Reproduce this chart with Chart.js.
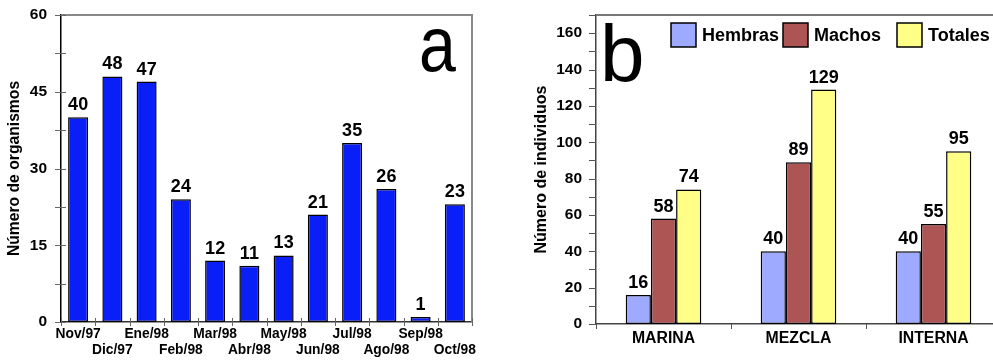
<!DOCTYPE html>
<html lang="es">
<head>
<meta charset="utf-8">
<title>Organismos por mes y por zona</title>
<script src="https://cdn.jsdelivr.net/npm/chart.js@4.4.1/dist/chart.umd.min.js"></script>
<style>
  html, body { margin: 0; padding: 0; background: #fff; overflow: hidden; }
  body { width: 993px; height: 360px; position: relative; }
  canvas { position: absolute; top: 0; }
  #graficoA { left: 0; }
  #graficoB { left: 490px; }
</style>
</head>
<body>
<canvas id="graficoA" width="490" height="360"></canvas>
<canvas id="graficoB" width="520" height="360"></canvas>
<script>
/* --- DATOS --- */

// panel a: organismos por mes (dos filas de etiquetas alternadas)
const meses = ['Nov/97', 'Dic/97', 'Ene/98', 'Feb/98', 'Mar/98', 'Abr/98',
               'May/98', 'Jun/98', 'Jul/98', 'Ago/98', 'Sep/98', 'Oct/98'];
const organismos = [40, 48, 47, 24, 12, 11, 13, 21, 35, 26, 1, 23];
const ticksA = [0, 15, 30, 45, 60];

// panel b: individuos por zona
const zonas = ['MARINA', 'MEZCLA', 'INTERNA'];
const hembras = [16, 40, 40];
const machos = [58, 89, 55];
const totales = [74, 129, 95];
const ticksB = [0, 20, 40, 60, 80, 100, 120, 140, 160];

const FUENTE = "'Liberation Sans', Arial, Helvetica, sans-serif";

/* --- PLUGINS --- */

// marcas de los ejes (mayores y menores), borde gris arriba/derecha
const marcasEje = {
  id: 'marcasEje',
  afterDraw(chart, args, o) {
    const { ctx, chartArea: a, scales: { x, y } } = chart;
    ctx.save();

    ctx.strokeStyle = o.gris;
    ctx.lineWidth = 2;
    ctx.beginPath();
    ctx.moveTo(a.left, a.top);
    ctx.lineTo(a.right, a.top);
    if (o.bordeDerecho) ctx.lineTo(a.right, a.bottom);
    ctx.stroke();

    ctx.strokeStyle = o.color;
    ctx.lineWidth = 1;
    ctx.beginPath();
    for (let v = y.min; v <= y.max + 1e-6; v += o.pasoMenor) {
      const py = Math.round(y.getPixelForValue(v)) + 0.5;
      ctx.moveTo(a.left - o.fueraY, py);
      ctx.lineTo(a.left + o.dentroY, py);
    }
    const n = chart.data.labels.length;
    const ancho = (x.getPixelForValue(n - 1) - x.getPixelForValue(0)) / (n - 1);
    for (let i = 0; i <= n; i++) {
      const px = Math.round(x.getPixelForValue(0) - ancho / 2 + i * ancho) + 0.5;
      ctx.moveTo(px, a.bottom - o.dentroX);
      ctx.lineTo(px, a.bottom + o.fueraX);
    }
    ctx.stroke();
    ctx.restore();
  }
};

// valores encima de cada barra
const valores = {
  id: 'valores',
  afterDatasetsDraw(chart, args, o) {
    const { ctx } = chart;
    ctx.save();
    ctx.font = `bold ${o.size}px ${FUENTE}`;
    ctx.fillStyle = '#000';
    ctx.textAlign = 'center';
    ctx.textBaseline = 'alphabetic';
    chart.data.datasets.forEach((ds, i) => {
      chart.getDatasetMeta(i).data.forEach((bar, j) => {
        ctx.fillText(ds.data[j], bar.x, bar.y - o.separacion);
      });
    });
    ctx.restore();
  }
};

// letra grande del panel
const letraPanel = {
  id: 'letraPanel',
  afterDraw(chart, args, o) {
    const { ctx } = chart;
    ctx.save();
    ctx.font = `${o.size}px ${FUENTE}`;
    ctx.fillStyle = '#000';
    ctx.textBaseline = 'alphabetic';
    ctx.translate(o.x, o.y);
    ctx.scale(o.escalaX || 1, 1);
    ctx.fillText(o.texto, 0, 0);
    ctx.restore();
  }
};

// leyenda dentro del area del grafico
const leyendaInterna = {
  id: 'leyendaInterna',
  afterDraw(chart, args, o) {
    const { ctx } = chart;
    ctx.save();
    ctx.font = `bold ${o.size}px ${FUENTE}`;
    ctx.textBaseline = 'middle';
    chart.data.datasets.forEach((ds, i) => {
      const x0 = o.posiciones[i];
      ctx.fillStyle = ds.backgroundColor;
      ctx.fillRect(x0, o.y, o.caja, o.caja - 1);
      ctx.strokeStyle = '#000';
      ctx.lineWidth = 1.5;
      ctx.strokeRect(x0, o.y, o.caja, o.caja - 1);
      ctx.fillStyle = '#000';
      ctx.fillText(ds.label, x0 + o.caja + 6, o.y + o.caja / 2 + 1);
    });
    ctx.restore();
  }
};

// tamaños fijos de los ejes, sin el relleno automatico de las etiquetas
function fijarAncho(w) {
  return s => { s.width = w; s.paddingTop = 0; s.paddingBottom = 0; };
}
function fijarAlto(h) {
  return s => { s.height = h; s.paddingLeft = 0; s.paddingRight = 0; };
}
function soloTicks(lista) { return s => { s.ticks = lista.map(v => ({ value: v })); }; }

const sinRejilla = { display: false, drawTicks: false };

/* --- PANEL A --- */

// etiquetas en dos filas: pares arriba, impares abajo
const etiquetasA = meses.map((m, i) => (i % 2 === 0 ? [m, ''] : ['', m]));

new Chart(document.getElementById('graficoA'), {
  type: 'bar',
  data: {
    labels: etiquetasA,
    datasets: [{
      label: 'Organismos',
      data: organismos,
      backgroundColor: '#0A1EF8',
      borderColor: '#000',
      borderWidth: 1.5,
      borderSkipped: false,
      barPercentage: 0.585,
      categoryPercentage: 1,
    }],
  },
  options: {
    responsive: false,
    animation: false,
    events: [],
    layout: { padding: { top: 15, right: 18, left: 1, bottom: 0 } },
    plugins: {
      legend: { display: false },
      tooltip: { enabled: false },
      valores: { size: 18, separacion: 7 },
      letraPanel: { texto: 'a', size: 78, x: 419, y: 71, escalaX: 0.85 },
      marcasEje: { color: '#666', gris: '#888', bordeDerecho: true,
                   pasoMenor: 7.5, fueraY: 6, dentroY: 5, fueraX: 4, dentroX: 4 },
    },
    scales: {
      x: {
        grid: sinRejilla,
        border: { display: true, color: '#333', width: 1.5 },
        ticks: {
          color: '#000', autoSkip: false, maxRotation: 0, minRotation: 0, padding: 4,
          font: { family: FUENTE, size: 13.8, weight: 'bold', lineHeight: 16 / 13.8 },
        },
        afterFit: fijarAlto(38),
      },
      y: {
        min: 0, max: 60,
        afterBuildTicks: soloTicks(ticksA),
        grid: sinRejilla,
        border: { display: true, color: '#000', width: 1.5 },
        ticks: { color: '#000', padding: 14, font: { family: FUENTE, size: 15.5, weight: 'bold' } },
        title: {
          display: true, text: 'Número de organismos', color: '#000',
          padding: { top: 4, bottom: 0 },
          font: { family: FUENTE, size: 15.7, weight: 'bold', lineHeight: 1.2 },
        },
        afterFit: fijarAncho(60),
      },
    },
  },
  plugins: [valores, letraPanel, marcasEje],
});

/* --- PANEL B --- */

new Chart(document.getElementById('graficoB'), {
  type: 'bar',
  data: {
    labels: zonas,
    datasets: [
      { label: 'Hembras', data: hembras, backgroundColor: '#9DAAFF' },
      { label: 'Machos', data: machos, backgroundColor: '#AD5555' },
      { label: 'Totales', data: totales, backgroundColor: '#FFFF88' },
    ].map(d => ({
      ...d, borderColor: '#000', borderWidth: 1.5, borderSkipped: false,
      barPercentage: 1, categoryPercentage: 0.56,
    })),
  },
  options: {
    responsive: false,
    animation: false,
    events: [],
    layout: { padding: { top: 15, right: 9, left: 38, bottom: 0 } },
    plugins: {
      legend: { display: false },
      tooltip: { enabled: false },
      valores: { size: 18, separacion: 7 },
      letraPanel: { texto: 'b', size: 80, x: 110, y: 81 },
      leyendaInterna: { size: 18, y: 23, caja: 25, posiciones: [181, 293, 407] },
      marcasEje: { color: '#555', gris: '#777', bordeDerecho: false,
                   pasoMenor: 10, fueraY: 7, dentroY: 0, fueraX: 5, dentroX: 0 },
    },
    scales: {
      x: {
        grid: sinRejilla,
        border: { display: true, color: '#444', width: 1.5 },
        ticks: {
          color: '#000', autoSkip: false, maxRotation: 0, padding: 5.5,
          font: { family: FUENTE, size: 15.8, weight: 'bold', lineHeight: 1.2 },
        },
        afterFit: fijarAlto(36),
      },
      y: {
        min: 0, max: 170,
        afterBuildTicks: soloTicks(ticksB),
        grid: sinRejilla,
        border: { display: true, color: '#444', width: 1.5 },
        ticks: { color: '#000', padding: 14, font: { family: FUENTE, size: 15.5, weight: 'bold' } },
        title: {
          display: true, text: 'Número de individuos', color: '#000',
          padding: { top: 4, bottom: 0 },
          font: { family: FUENTE, size: 16, weight: 'bold', lineHeight: 1.2 },
        },
        afterFit: fijarAncho(68),
      },
    },
  },
  plugins: [valores, letraPanel, leyendaInterna, marcasEje],
});
</script>
</body>
</html>
